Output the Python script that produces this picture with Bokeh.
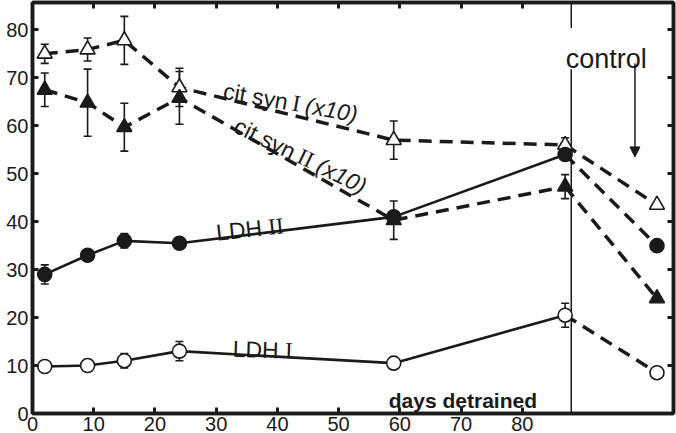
import math
from bokeh.plotting import figure
from bokeh.models import (ColumnDataSource, Whisker, TeeHead, LinearAxis, FixedTicker,
                          Range1d, Arrow, NormalHead)
from bokeh.core.properties import value
from bokeh.embed import file_html
from bokeh.resources import INLINE

# ---------------- data ----------------
days = [2, 9, 15, 24, 59, 87]
control_x = 102
divider_x = 88

cs1 = [75, 75.9, 77.8, 68, 57, 56]
cs1_err = [2, 2.4, 5, 4, 4, 1.5]
cs1_ctrl = 43.5

cs2 = [67.5, 64.8, 59.7, 65.8, 40.3, 47.3]
cs2_err = [3.5, 7, 5, 5.5, 4, 2.5]
cs2_ctrl = 24

ldh2 = [29, 33, 36, 35.5, 41, 54]
ldh2_err = [2, 0, 1.5, 0, 0, 1.2]
ldh2_ctrl = 35

ldh1 = [9.8, 10, 11, 13, 10.5, 20.5]
ldh1_err = [0, 1, 1.5, 2, 0, 2.5]
ldh1_ctrl = 8.5

x_ticks = [0, 10, 20, 30, 40, 50, 60, 70, 80]
y_ticks = [0, 10, 20, 30, 40, 50, 60, 70, 80]

SANS = "Liberation Sans"
SERIF = "Liberation Serif"
INK = "#1a1a1a"

p = figure(width=676, height=433, x_range=Range1d(0, 104.7), y_range=Range1d(0, 85.7),
           output_backend="svg", toolbar_location=None,
           min_border_left=32, min_border_right=3, min_border_top=2, min_border_bottom=0)
p.xgrid.visible = False
p.ygrid.visible = False
p.outline_line_color = INK
p.outline_line_width = 3.5
p.background_fill_color = "white"


def style_axis(ax, labels=True):
    ax.axis_line_width = 3.5
    ax.axis_line_color = INK
    ax.major_tick_in = 6
    ax.major_tick_out = 0
    ax.major_tick_line_width = 3
    ax.major_tick_line_color = INK
    ax.minor_tick_line_color = None
    ax.major_label_text_font = SANS
    if labels:
        ax.major_label_text_color = INK
        ax.major_label_text_font_size = "20px"
        ax.major_label_standoff = 3
    else:
        ax.major_label_text_color = None
        ax.major_label_text_font_size = "1px"
        ax.major_label_standoff = 0


p.xaxis.ticker = FixedTicker(ticks=x_ticks)
p.yaxis.ticker = FixedTicker(ticks=y_ticks)
style_axis(p.xaxis[0])
style_axis(p.yaxis[0])
p.yaxis[0].major_label_standoff = 4
top = LinearAxis(ticker=FixedTicker(ticks=x_ticks[1:]))
right = LinearAxis(ticker=FixedTicker(ticks=y_ticks[1:]))
style_axis(top, labels=False)
style_axis(right, labels=False)
p.add_layout(top, "above")
p.add_layout(right, "right")

DASH = "13 8"

# control divider (broken behind the "control" word)
div_gap_low, div_gap_high = 71.8, 80.4
p.segment(x0=[divider_x, divider_x], y0=[0, div_gap_high],
          x1=[divider_x, divider_x], y1=[div_gap_low, 85.7],
          line_color=INK, line_width=1.5)

series = [
    (cs1, cs1_err, cs1_ctrl, "triangle", "white", False),
    (cs2, cs2_err, cs2_ctrl, "triangle", INK, False),
    (ldh2, ldh2_err, ldh2_ctrl, "circle", INK, True),
    (ldh1, ldh1_err, ldh1_ctrl, "circle", "white", True),
]

for ys, errs, ctrl, marker, fill, solid in series:
    if solid:
        p.line(days, ys, line_color=INK, line_width=2.6)
    else:
        p.line(days, ys, line_color=INK, line_width=3.5, line_dash=DASH)
    p.line([days[-1], control_x], [ys[-1], ctrl], line_color=INK, line_width=3.5,
           line_dash=DASH)

for ys, errs, ctrl, marker, fill, solid in series:
    xs = [d for d, e in zip(days, errs) if e > 0]
    up = [y + e for y, e in zip(ys, errs) if e > 0]
    lo = [y - e for y, e in zip(ys, errs) if e > 0]
    src = ColumnDataSource(dict(x=xs, upper=up, lower=lo))
    w = Whisker(source=src, base="x", upper="upper", lower="lower",
                line_color=INK, line_width=1.6,
                upper_head=TeeHead(size=8, line_width=1.6, line_color=INK),
                lower_head=TeeHead(size=8, line_width=1.6, line_color=INK),
                level="underlay")
    p.add_layout(w)

for ys, errs, ctrl, marker, fill, solid in series:
    size = 15 if marker == "triangle" else 14
    p.scatter(days + [control_x], ys + [ctrl], marker=marker, size=size,
              fill_color=fill, line_color=INK, line_width=1.6)

# arrow under "control"
p.add_layout(Arrow(end=NormalHead(size=10, fill_color=INK, line_color=INK),
                   x_start=98.4, y_start=73.0, x_end=98.4, y_end=53.5,
                   line_color=INK, line_width=1.5))

p.text(x=[93.7], y=[73.9], text=["control"], text_font=value(SANS),
       text_font_size="27px", text_align="center", text_baseline="alphabetic",
       text_color=INK)
p.text(x=[70.3], y=[2.8], text=["days detrained"], text_font=value(SANS),
       text_font_style="bold", text_font_size="21px", text_align="center",
       text_baseline="alphabetic", text_color=INK)


def label(x, y, angle_deg, size, parts):
    a = math.radians(angle_deg)
    for txt, font, style, adv in parts:
        p.text(x=[x], y=[y], text=[txt], angle=a,
               x_offset=adv * math.cos(a), y_offset=-adv * math.sin(a),
               text_font=value(font), text_font_style=style,
               text_font_size=f"{size}px", text_align="left",
               text_baseline="alphabetic", text_color=INK)


label(31.2, 67.3, -10, 23, [("cit syn", SANS, "normal", 0),
                            ("I", SERIF, "normal", 70.0),
                            ("(x10)", SANS, "italic", 83.5)])
label(33.2, 60.3, -26, 23, [("cit syn", SANS, "normal", 0),
                            ("II", SERIF, "normal", 70.0),
                            ("(x10)", SANS, "italic", 91.5)])
label(30.0, 37.7, 6, 23, [("LDH", SANS, "normal", 0),
                          ("II", SERIF, "normal", 52.4)])
label(32.7, 13.5, -2, 23, [("LDH", SANS, "normal", 0),
                           ("I", SERIF, "normal", 52.4)])

open("out.html", "w").write(file_html(p, INLINE))
